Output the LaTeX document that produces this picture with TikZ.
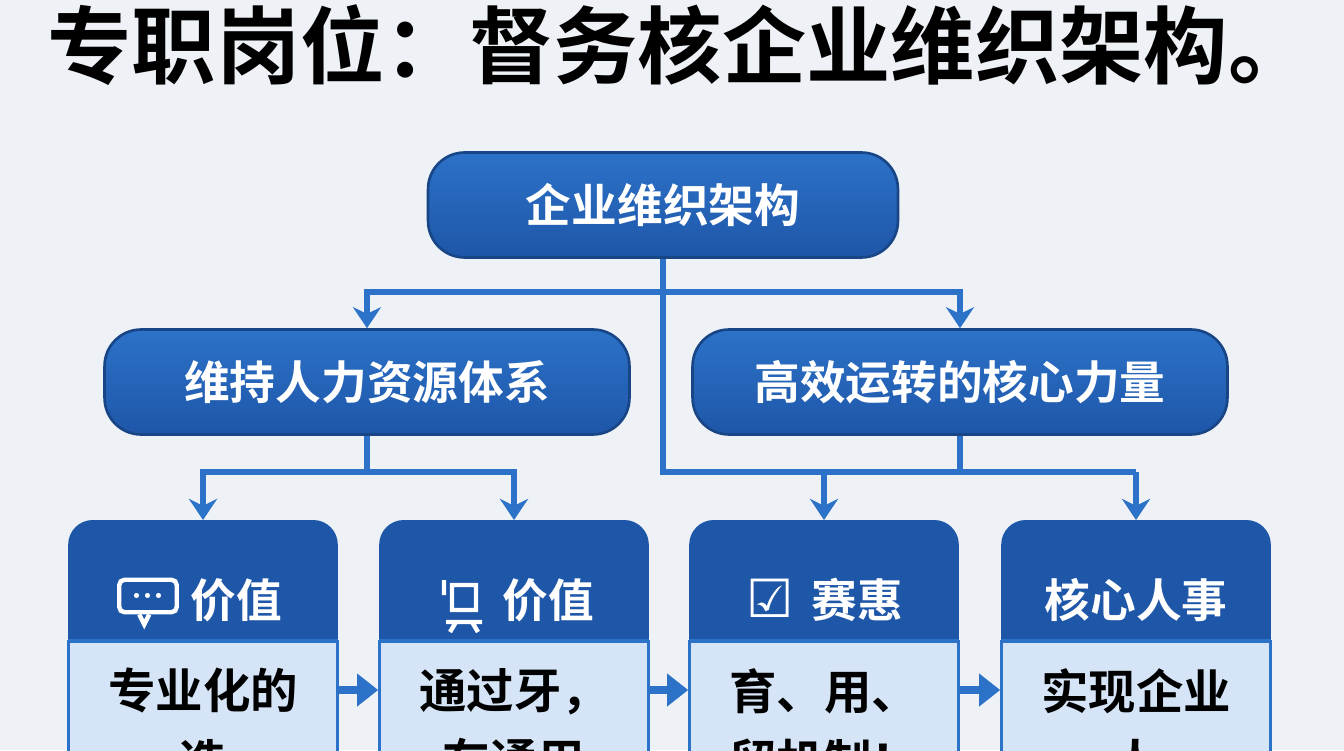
\documentclass[tikz,border=0pt]{standalone}
\usepackage{fontspec}
\newfontfamily\cjk{Noto Sans CJK SC}
\newfontfamily\cjkb{Noto Sans CJK SC Bold}
\newfontfamily\sym{DejaVu Sans}
\usetikzlibrary{arrows.meta}
\definecolor{dkblue}{HTML}{1E56A8}
\definecolor{mdblue}{HTML}{2C72C8}
\definecolor{ltblue}{HTML}{D5E5F7}
\definecolor{bgcol}{HTML}{EEF2F7}
\begin{document}
\begin{tikzpicture}[x=0.02cm,y=-0.02cm]
\tikzstyle{pill}=[rectangle,rounded corners=52\pgflinewidth,draw=dkblue!80!black,line width=1.5pt,top color=mdblue,bottom color=dkblue,text=white,font=\cjkb\fontsize{26}{28}\selectfont,minimum height=2.1cm,inner xsep=10pt]
\tikzstyle{head}=[rectangle,minimum width=5.38cm,minimum height=2.4cm]
\tikzstyle{body}=[rectangle,fill=ltblue,draw=mdblue,line width=1.5pt,minimum width=5.38cm,minimum height=3cm]
\tikzstyle{htext}=[text=white,font=\cjkb\fontsize{26}{28}\selectfont]
\tikzstyle{btext}=[text=black,font=\cjkb\fontsize{27}{40}\selectfont,align=center,anchor=north]
\tikzstyle{link}=[draw=mdblue,line width=3pt,-{Stealth[length=12pt,width=16pt]}]
\useasboundingbox (0,0) rectangle (1344,750);
\clip (0,0) rectangle (1344,750);
\fill[bgcol] (0,0) rectangle (1344,750);
% title
\node (title) at (680,45) [font=\cjkb\fontsize{48}{52}\selectfont] {专职岗位：督务核企业维织架构。};
% tree
\node [pill,minimum width=9.4cm] (top) at (663,205) {企业维织架构};
\node [pill,minimum width=10.5cm] (hr) at (367,382) {维持人力资源体系};
\node [pill,minimum width=10.7cm] (core) at (960,382) {高效运转的核心力量};
\coordinate (ctop) at (663,292);
\coordinate (cmid) at (663,472);
\coordinate (cright) at (1136,472);
\coordinate (crow) at (0,690);
\draw [draw=mdblue,line width=3pt] (top.south) -- (cmid) -- (cright);
\draw [link] (ctop) -| (hr.north);
\draw [link] (ctop) -| (core.north);
% bottom boxes
\foreach \n/\x in {a/203,b/514,c/824,d/1136}{
  \node [body,anchor=north] (b\n) at (\x,640) {};
  \node [head,anchor=north] (h\n) at (\x,520) {};
  \fill [dkblue,rounded corners=14pt] (h\n.north west) rectangle (h\n.south east);
  \fill [dkblue] (h\n.west) rectangle (h\n.south east);
  \draw [mdblue,line width=1.5pt] (h\n.south west) -- (h\n.south east);
}
\draw [draw=mdblue,line width=3pt] (hr.south) -- (367,472);
\draw [draw=mdblue,line width=3pt] (core.south) -- (960,472);
\draw [link] (367,472) -| (ha.north);
\draw [link] (367,472) -| (hb.north);
\draw [link] (824,472) -- (hc.north);
\draw [link] (cright) -- (hd.north);
\foreach \p/\q in {a/b,b/c,c/d}{
  \draw [link,line width=5pt,-{Triangle[length=12pt,width=18pt]}] (b\p.east |- crow) -- (b\q.west |- crow);
}
% header texts
\node [htext] (ta) at (236,600) {价值};
\node [htext] (tb) at (548,600) {价值};
\node [htext] (tc) at (857,600) {赛惠};
\node [htext] (td) at (1136,600) {核心人事};
\node [draw=white,line width=2.5pt,rounded corners=3pt,minimum width=1.15cm,minimum height=0.65cm] (ia) at (148,596) {};
\node [text=white,font=\bfseries\fontsize{20}{20}\selectfont] at (ia) {...};
\draw [white,line width=2.5pt] ([xshift=-5pt]ia.south) -- ++(5,10) -- ++(5,-10);
\draw [white,line width=2.5pt] (444,580) -- (444,595) (452,585) rectangle (476,610) (456,622) -- (450,632) (472,622) -- (478,632) (446,622) -- (482,622);
\node [text=white,font=\sym\fontsize{30}{30}\selectfont] (ic) at (770,598) {☑};
% body texts
\node [btext] (xa) at (203,662) {专业化的\\选};
\node [btext] (xb) at (514,662) {通过牙，\\在通用};
\node [btext] (xc) at (824,662) {育、用、\\留机制！};
\node [btext] (xd) at (1136,662) {实现企业\\人};
\end{tikzpicture}
\end{document}
